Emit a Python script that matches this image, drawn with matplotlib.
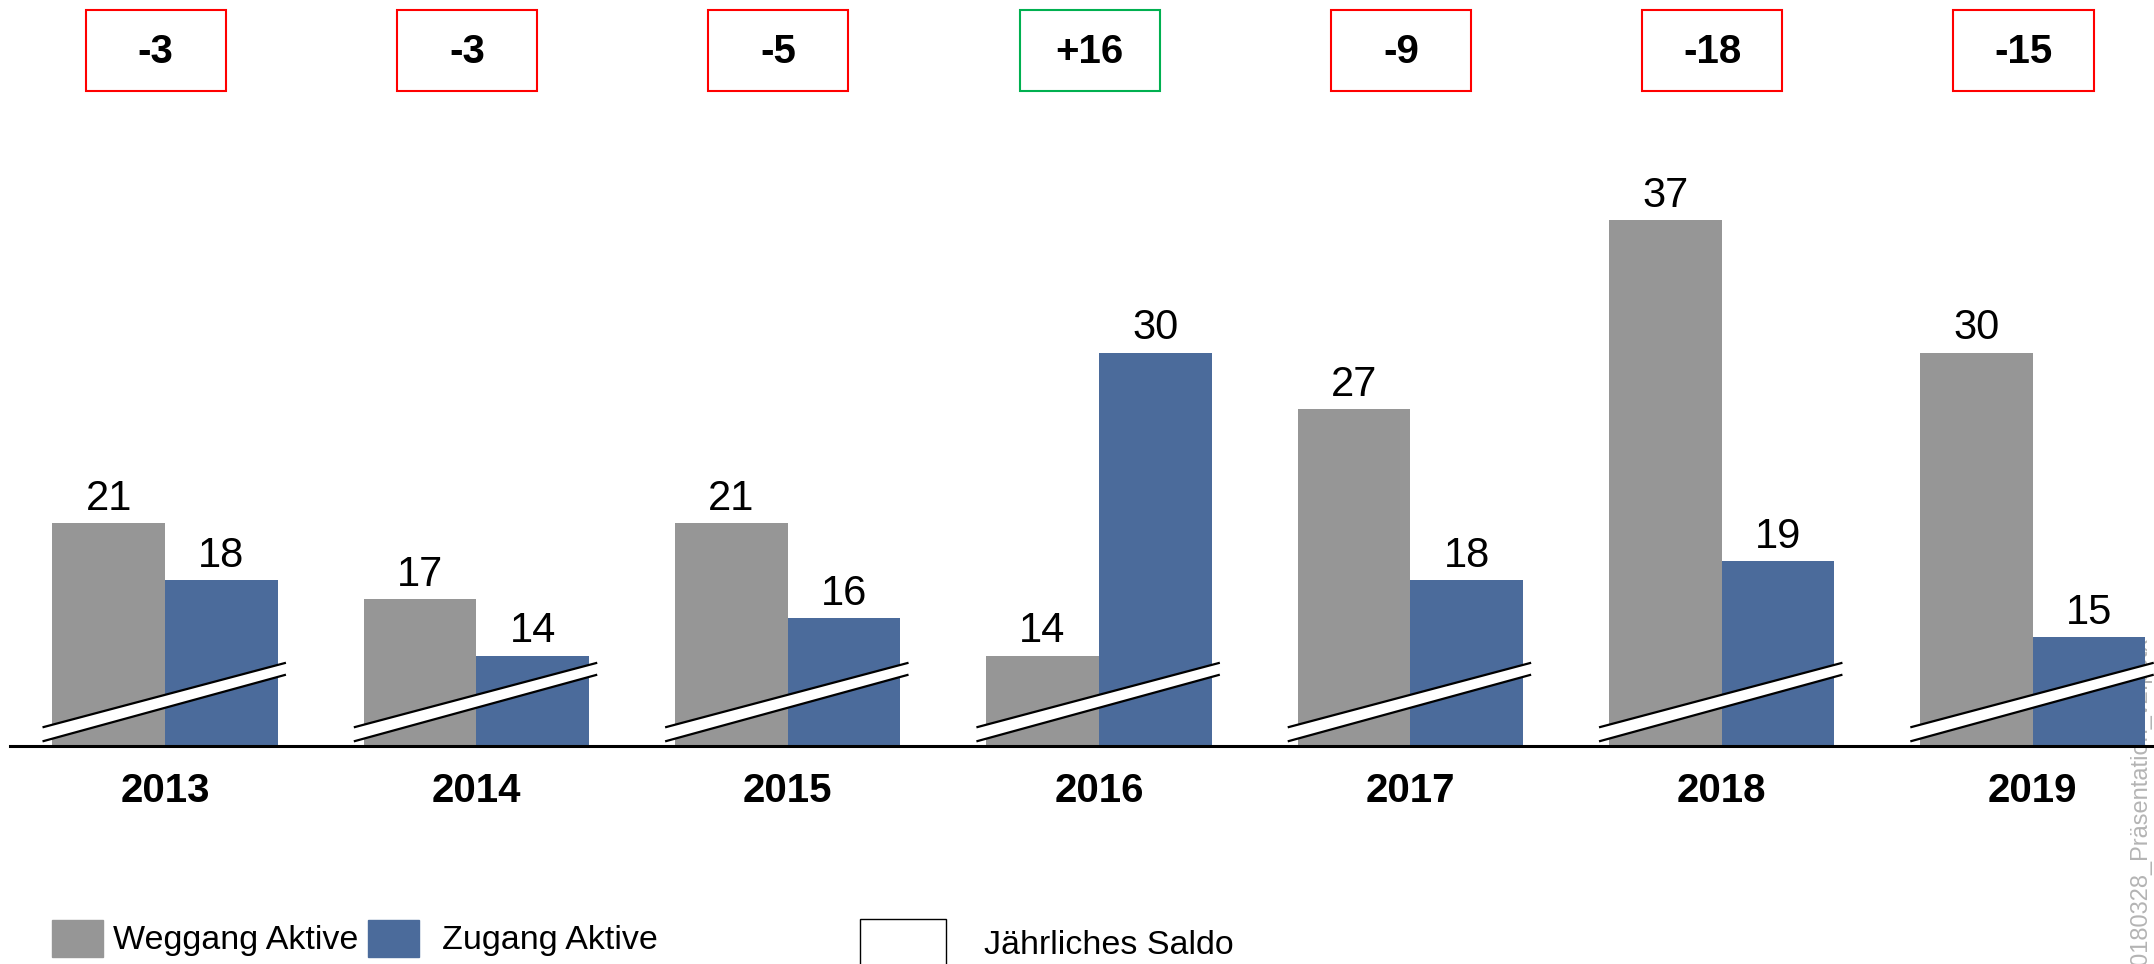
import numpy as np
import matplotlib
matplotlib.use('Agg')
import matplotlib.pyplot as plt
from matplotlib.patches import Rectangle, Polygon
from matplotlib.transforms import blended_transform_factory

plt.rcParams['font.family'] = ['Liberation Sans', 'DejaVu Sans']

# data
years = ['2013', '2014', '2015', '2016', '2017', '2018', '2019']
weggang = [21, 17, 21, 14, 27, 37, 30]
zugang = [18, 14, 16, 30, 18, 19, 15]
series_names = ['Weggang Aktive', 'Zugang Aktive']
saldo_label = 'Jährliches Saldo'
file_note = '20180328_Präsentation_v2.pptx'

grey = '#969696'
blue = '#4B6B9B'

W, H = 2154, 964
fig = plt.figure(figsize=(W / 100, H / 100), dpi=100)
ax = fig.add_axes([10 / W, (H - 746) / H, 1 - 10 / W, (746 - 110) / H])
ax.patch.set_visible(False)

x = np.arange(len(years))
w = 0.362
ax.bar(x - w / 2, weggang, w, color=grey, zorder=2)
ax.bar(x + w / 2, zugang, w, color=blue, zorder=2)

# axis starts above zero (broken axis)
ymin = 9.23
ax.set_ylim(ymin, 42.81)
ax.set_xlim((10 - 165) / 311.3, (W - 165) / 311.3)

for s in ['top', 'right', 'left']:
    ax.spines[s].set_visible(False)
ax.spines['bottom'].set_linewidth(2.2)
ax.spines['bottom'].set_zorder(5)
ax.set_xticks([])
ax.set_yticks([])

# value labels
for xi, v in zip(x - w / 2, weggang):
    ax.annotate(str(v), (xi, v), xytext=(0, 3), textcoords='offset points',
                ha='center', va='bottom', fontsize=30)
for xi, v in zip(x + w / 2, zugang):
    ax.annotate(str(v), (xi, v), xytext=(0, 3), textcoords='offset points',
                ha='center', va='bottom', fontsize=30)

# break marks
for xi in x:
    x0, x1 = xi - 0.39, xi + 0.385
    lo0, lo1 = ymin + 0.26, ymin + 3.75
    up0, up1 = ymin + 1.0, ymin + 4.38
    ax.add_patch(Polygon([[x0, lo0], [x1, lo1], [x1, up1], [x0, up0]],
                         closed=True, facecolor='white', edgecolor='none',
                         zorder=3, clip_on=False))
    ax.plot([x0, x1], [lo0, lo1], color='black', lw=1.6, zorder=4, clip_on=False)
    ax.plot([x0, x1], [up0, up1], color='black', lw=1.6, zorder=4, clip_on=False)

# yearly balance boxes and year labels
tr = blended_transform_factory(ax.transData, fig.transFigure)
bw = 0.45
for xi, yr, a, b in zip(x, years, weggang, zugang):
    d = b - a
    col = '#00B050' if d > 0 else '#FF0000'
    cx = xi - 0.03
    ax.add_patch(Rectangle((cx - bw / 2, (H - 91) / H), bw, 81 / H,
                           transform=tr, facecolor='white', edgecolor=col,
                           lw=1.5, clip_on=False))
    ax.text(cx, (H - 52) / H, f'{d:+d}', transform=tr, ha='center',
            va='center', fontsize=29, fontweight='bold')
    ax.text(xi, (H - 791) / H, yr, transform=tr, ha='center', va='center',
            fontsize=29, fontweight='bold')

# legend
fig.patches.append(Rectangle((52 / W, (H - 957) / H), 51 / W, 37 / H,
                             transform=fig.transFigure, color=grey))
fig.text(113 / W, (H - 941) / H, series_names[0], fontsize=24.5, va='center')
fig.patches.append(Rectangle((368 / W, (H - 957) / H), 51 / W, 37 / H,
                             transform=fig.transFigure, color=blue))
fig.text(442 / W, (H - 941) / H, series_names[1], fontsize=24.5, va='center')
fig.patches.append(Rectangle((860 / W, (H - 975) / H), 86 / W, 56 / H,
                             transform=fig.transFigure, facecolor='white',
                             edgecolor='black', lw=1.0))
fig.text(984 / W, (H - 946) / H, saldo_label, fontsize=24.5, va='center')

# file name note on the right edge, behind the bars
fig.text(2141 / W, -13 / H, file_note, rotation=90, ha='center', va='bottom',
         fontsize=17, color='#b4b4b4', zorder=-1)

fig.savefig('out.png', dpi=100)
